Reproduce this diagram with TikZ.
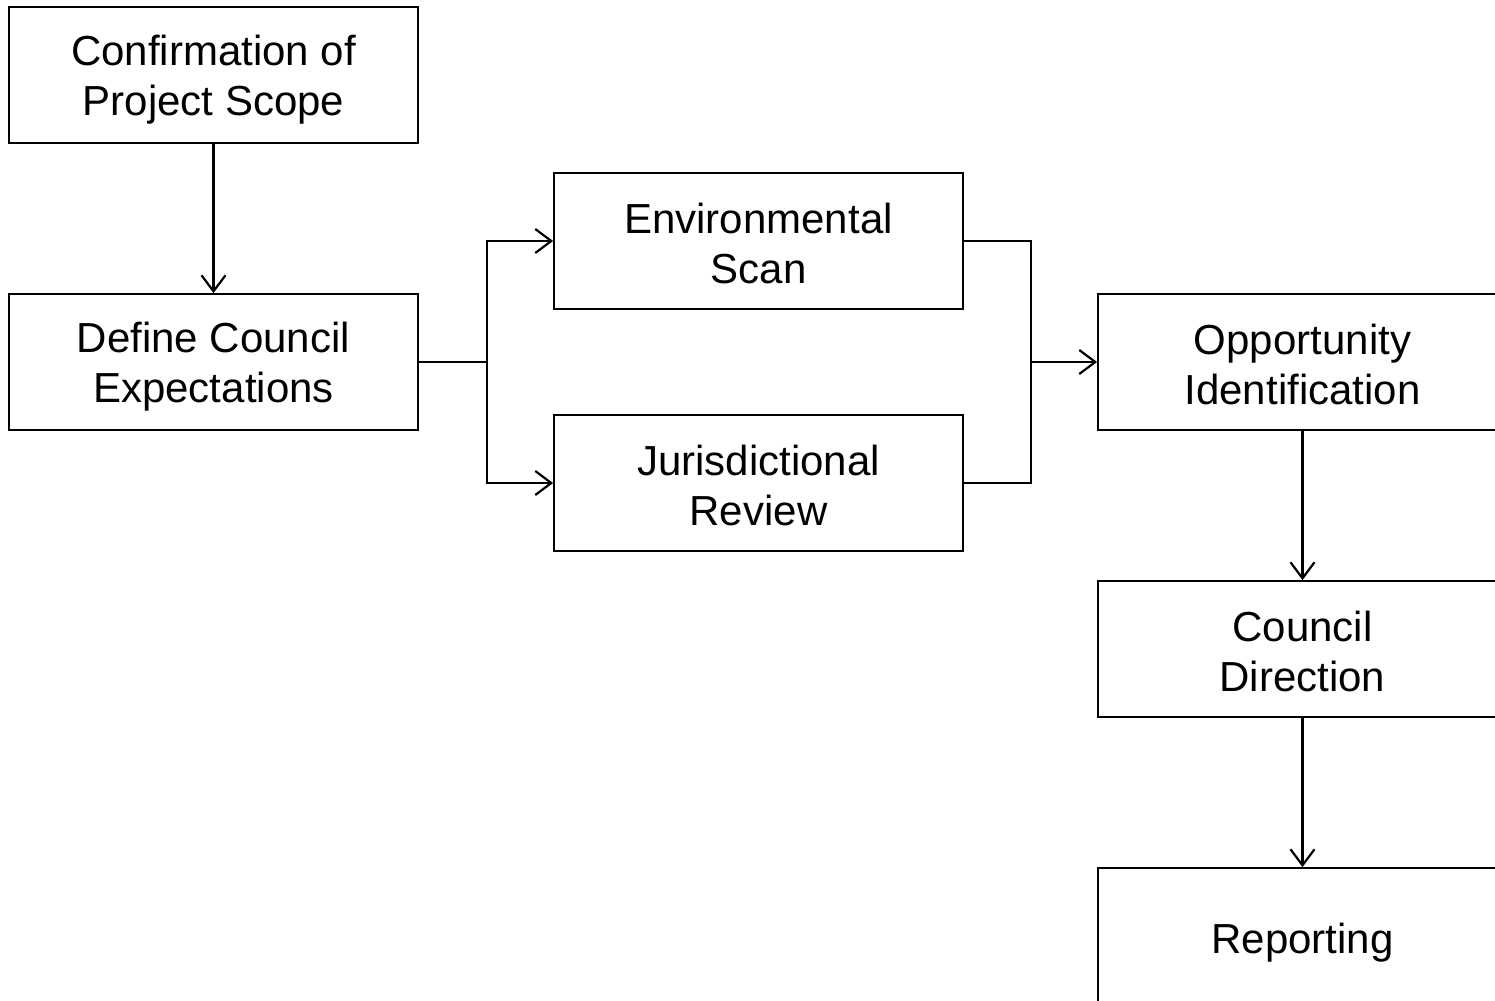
\documentclass[tikz,border=0pt]{standalone}
\usepackage{fontspec}
\setmainfont{Liberation Sans}
\usetikzlibrary{arrows.meta}
\newcommand{\tstr}{\rule{0pt}{19.5pt}}
\newcommand{\bstr}{\rule[-2.5pt]{0pt}{2.5pt}}
\begin{document}
\begin{tikzpicture}[x=0.5pt,y=-0.5pt,
  box/.style={draw=black, line width=0.9pt, minimum width=204.5pt, minimum height=68pt,
    align=center, inner sep=0pt, font=\fontsize{21}{25}\selectfont},
  conn/.style={draw=black, line width=1.3pt},
  arr/.style={conn, -{Straight Barb[length=8pt,width=12pt,line width=1.1pt]}}]
\useasboundingbox (0,0) rectangle (1495,1001);
\clip (0,0) rectangle (1495,1001);
\node[box] (conf) at (213.5,75) {\tstr Confirmation of\\Project Scope\bstr};
\node[box] (def) at (213.5,362) {\tstr Define Council\\Expectations\bstr};
\node[box] (env) at (758.5,241) {\tstr Environmental\\Scan\bstr};
\node[box] (jur) at (758.5,483) {\tstr Jurisdictional\\Review\bstr};
\node[box] (opp) at (1302.5,362) {\tstr Opportunity\\Identification\bstr};
\node[box] (cdir) at (1302.5,649) {\tstr Council\\Direction\bstr};
\node[box, minimum height=70.5pt] (rep) at (1302.5,938.5) {\tstr Reporting\bstr};
\draw[arr] (conf.south) -- (def.north);
\draw[conn] (def.east) -- ++(68,0) coordinate (s1);
\draw[arr] (s1) |- (env.west);
\draw[arr] (s1) |- (jur.west);
\draw[conn] (env.east) -- ++(67,0) coordinate (m1) -- (m1 |- jur.east) -- (jur.east);
\coordinate (m2) at (m1 |- opp.west);
\draw[arr] (m2) -- (opp.west);
\draw[arr] (opp.south) -- (cdir.north);
\draw[arr] (cdir.south) -- (rep.north);
\end{tikzpicture}
\end{document}
